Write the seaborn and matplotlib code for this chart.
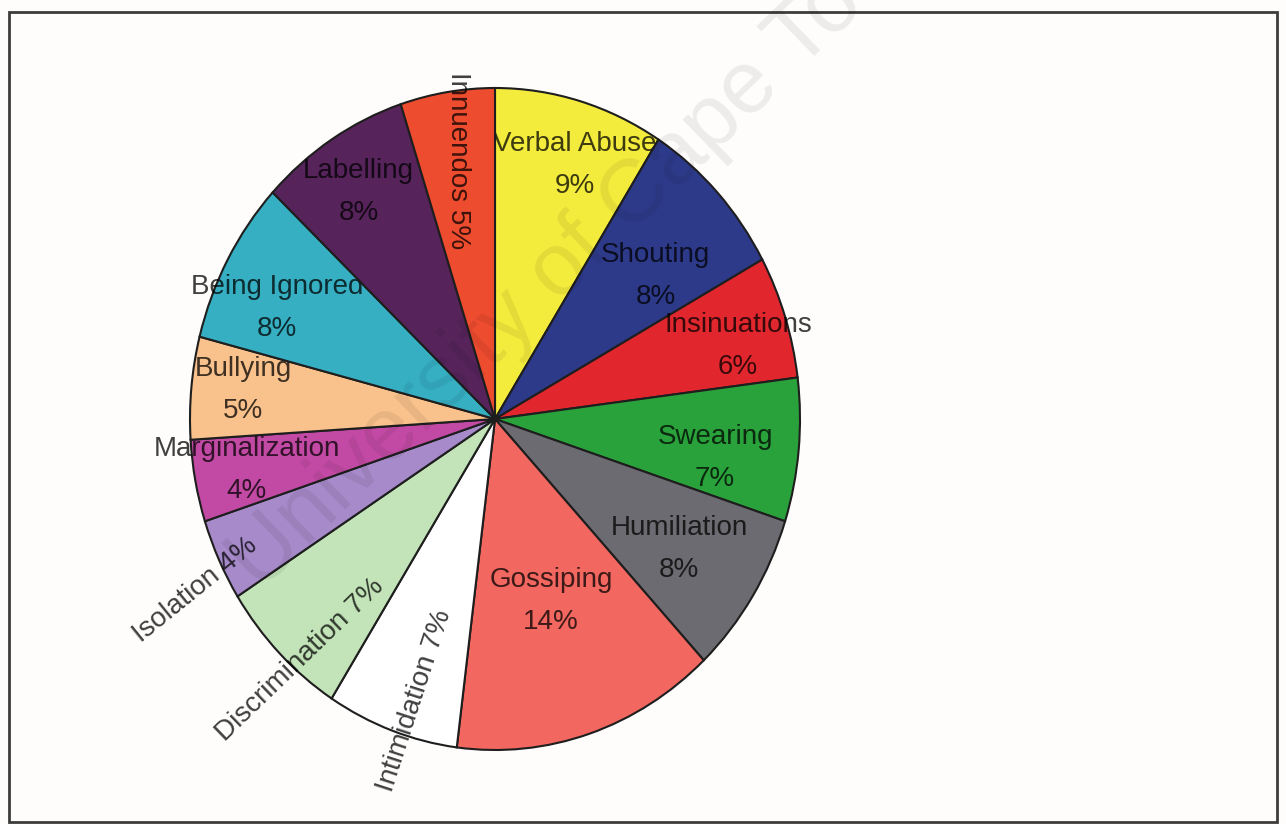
import numpy as np
import matplotlib
matplotlib.use("Agg")
import matplotlib.pyplot as plt
from matplotlib.patches import Rectangle
import seaborn as sns

# Forms of workplace abuse reported, share of responses (%)
categories = ["Verbal Abuse", "Shouting", "Insinuations", "Swearing", "Humiliation",
              "Gossiping", "Intimidation", "Discrimination", "Isolation",
              "Marginalization", "Bullying", "Being Ignored", "Labelling", "Innuendos"]
shares = [9, 8, 6, 7, 8, 14, 7, 7, 4, 4, 5, 8, 8, 5]

slice_colors = ["#F4EC3C", "#2D3A8A", "#E1272D", "#2AA23B", "#6C6B71",
                "#F2675F", "#FFFFFF", "#C3E4B9", "#A78ACA", "#C24AA4",
                "#F9C18B", "#36AFC3", "#56245B", "#EE4C2F"]

# label placement: radial distance (fraction of radius), angular nudge from the
# slice centre (degrees, clockwise) and text rotation
label_radius = [0.81, 0.68, 0.827, 0.731, 0.72, 0.58, 0.89, 0.97, 1.11, 0.828, 0.83, 0.79, 0.82, 0.79]
label_nudge = [2.7, 3.9, 2.5, 3.9, 0.6, -0.5, -2.6, -3.7, -2.6, 0.1, 0.7, -3.7, -0.7, 0.2]
label_rotation = [0, 0, 0, 0, 0, 0, 72, 44, 39, 0, 0, 0, 0, -90]

sns.set_theme(style="white")
plt.rcParams["font.family"] = ["Liberation Sans", "DejaVu Sans"]

W, H = 1286, 824
fig = plt.figure(figsize=(W / 100, H / 100), dpi=100)
fig.patch.set_facecolor("#FEFDFB")

# pie occupies an elliptical area (slightly taller than wide)
cx, cy, rx, ry = 495, 419, 305, 331
ax = fig.add_axes([(cx - rx) / W, (H - (cy + ry)) / H, 2 * rx / W, 2 * ry / H])
ax.set_facecolor("none")

wedges, _ = ax.pie(shares, colors=slice_colors, startangle=90, counterclock=False,
                   wedgeprops=dict(edgecolor="#1E1E1E", linewidth=1.5))
ax.set_aspect("auto")
ax.set_xlim(-1, 1)
ax.set_ylim(-1, 1)
ax.axis("off")

total = float(sum(shares))
cum = np.cumsum([0] + shares[:-1])
for i, (name, val, w) in enumerate(zip(categories, shares, wedges)):
    w.set_zorder(2 * i + 1)
    mid = np.deg2rad((cum[i] + val / 2.0) / total * 360.0 + label_nudge[i])
    r = label_radius[i]
    x, y = r * np.sin(mid), r * np.cos(mid)
    if label_rotation[i] == 0:
        txt = f"{name}\n{val}%"
    else:
        txt = f"{name} {val}%"
    ax.text(x, y, txt, ha="center", va="center", rotation=label_rotation[i],
            rotation_mode="anchor", fontsize=20, color="black", alpha=0.75,
            linespacing=1.8, zorder=2 * i + 2)

# watermark
fig.text(588 / W, 1 - 244 / H, "University of Cape Town", rotation=44,
         ha="center", va="center", fontsize=64, color="black", alpha=0.07,
         rotation_mode="anchor", zorder=100)

# outer frame
fig.patches.append(Rectangle((9 / W, (H - 822) / H), 1268 / W, 810 / H,
                             transform=fig.transFigure, fill=False,
                             edgecolor="#3C3C3C", linewidth=2.0, zorder=50))

fig.savefig("out.png", dpi=100, facecolor=fig.get_facecolor())
